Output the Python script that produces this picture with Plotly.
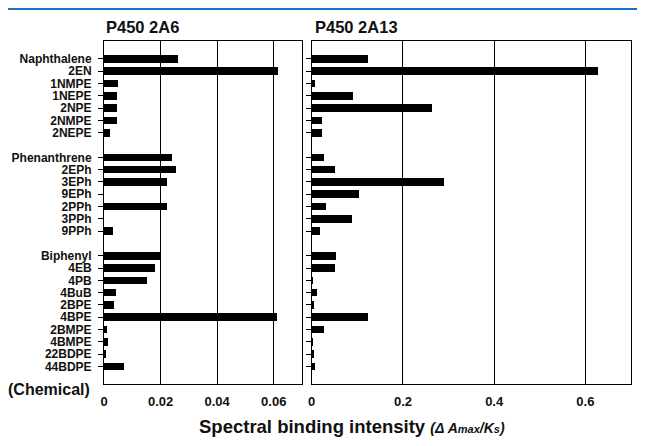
import plotly.graph_objects as go

# ---- data ----
group_naph = ["Naphthalene", "2EN", "1NMPE", "1NEPE", "2NPE", "2NMPE", "2NEPE"]
group_phen = ["Phenanthrene", "2EPh", "3EPh", "9EPh", "2PPh", "3PPh", "9PPh"]
group_biph = ["Biphenyl", "4EB", "4PB", "4BuB", "2BPE", "4BPE", "2BMPE", "4BMPE", "22BDPE", "44BDPE"]

p2a6_naph = [0.0260, 0.0616, 0.0051, 0.0047, 0.0045, 0.0045, 0.0021]
p2a6_phen = [0.0241, 0.0253, 0.0221, 0.0, 0.0221, 0.0, 0.0031]
p2a6_biph = [0.0199, 0.0181, 0.0151, 0.0041, 0.0034, 0.0610, 0.0011, 0.0014, 0.0007, 0.0071]

p2a13_naph = [0.122, 0.626, 0.0066, 0.089, 0.262, 0.021, 0.023]
p2a13_phen = [0.027, 0.050, 0.289, 0.104, 0.031, 0.088, 0.017]
p2a13_biph = [0.052, 0.050, 0.001, 0.012, 0.004, 0.122, 0.026, 0.001, 0.004, 0.006]

left_ticks = [0, 0.02, 0.04, 0.06]
right_ticks = [0, 0.2, 0.4, 0.6]

# ---- build slots (one blank slot between groups) ----
groups = [group_naph, group_phen, group_biph]
cats, pos = [], []
slot = 0
for g in groups:
    for c in g:
        cats.append(c)
        pos.append(slot)
        slot += 1
    slot += 1
v2a6 = p2a6_naph + p2a6_phen + p2a6_biph
v2a13 = p2a13_naph + p2a13_phen + p2a13_biph

FONT = "Liberation Sans"
INK = "#111111"

fig = go.Figure()
fig.add_trace(go.Bar(x=v2a6, y=pos, orientation="h", marker=dict(color="black", line_width=0),
                     width=0.62, xaxis="x", yaxis="y", showlegend=False))
fig.add_trace(go.Bar(x=v2a13, y=pos, orientation="h", marker=dict(color="black", line_width=0),
                     width=0.62, xaxis="x2", yaxis="y2", showlegend=False))

# page has an 8px body margin: work in page pixels, convert to figure pixels
OFF = 8
W, H = 645 - 2 * OFF, 446 - 2 * OFF
PL, PR, PT, PB = 104, 631, 41, 384.3   # plot area in page pixels
L, T = PL - OFF, PT - OFF
R = W - (PR - OFF)
B = H - (PB - OFF)
pw = W - L - R
ph = H - T - B

def px_x(p):
    return (p - OFF - L) / pw

def px_y(p):
    return (H - B - (p - OFF)) / ph

yr = [pos[-1] + 1.43, -1.46]
d1 = [0, px_x(302)]
d2 = [px_x(311.7), 1]

axis_common = dict(showline=True, mirror=True, linecolor="black", linewidth=1,
                   showgrid=True, gridcolor="black", gridwidth=1, zeroline=False,
                   ticks="", tickfont=dict(family=FONT, size=13, color=INK, weight="bold"),
                   ticklabelstandoff=5, fixedrange=True, automargin=False)
fig.update_layout(
    width=W, height=H,
    margin=dict(l=L, r=R, t=T, b=B, autoexpand=False),
    paper_bgcolor="white", plot_bgcolor="white",
    bargap=0,
    xaxis=dict(domain=d1, range=[0, 0.07], tickvals=left_ticks, **axis_common),
    xaxis2=dict(domain=d2, range=[0, 0.7], tickvals=right_ticks, **axis_common),
    yaxis=dict(domain=[0, 1], range=yr, tickvals=pos, ticktext=cats, anchor="x",
               showline=True, mirror=True, linecolor="black", linewidth=1, showgrid=False,
               zeroline=False, ticks="outside", ticklen=5, tickcolor="black", tickwidth=1,
               tickfont=dict(family=FONT, size=12, color=INK, weight="bold"),
               ticklabelstandoff=4, automargin=False),
    yaxis2=dict(domain=[0, 1], range=yr, tickvals=pos, showticklabels=False, anchor="x2",
                showline=True, mirror=True, linecolor="black", linewidth=1, showgrid=False,
                zeroline=False, ticks="outside", ticklen=5, tickcolor="black", tickwidth=1,
                automargin=False),
)

# top blue rule
fig.add_shape(type="line", xref="paper", yref="paper",
              x0=px_x(8), x1=px_x(640), y0=px_y(9), y1=px_y(9),
              line=dict(color="#1a6fcc", width=2))

ann_font = dict(family=FONT, color=INK, weight="bold")
fig.add_annotation(text="P450 2A6", xref="paper", yref="paper", x=d1[0], y=px_y(27),
                   xanchor="left", yanchor="middle", showarrow=False,
                   font=dict(size=16.5, **ann_font))
fig.add_annotation(text="P450 2A13", xref="paper", yref="paper", x=px_x(313), y=px_y(27),
                   xanchor="left", yanchor="middle", showarrow=False,
                   font=dict(size=16.5, **ann_font))
fig.add_annotation(text="(Chemical)", xref="paper", yref="paper", x=px_x(92), y=px_y(390),
                   xanchor="right", yanchor="middle", showarrow=False,
                   font=dict(size=16, **ann_font))
fig.add_annotation(
    text=("Spectral binding intensity "
          "<i><span style='font-size:14px'>(Δ A<span style='font-size:11px'>max</span>"
          "/K<span style='font-size:11px'>s</span>)</span></i>"),
    xref="paper", yref="paper", x=px_x(352), y=px_y(427),
    xanchor="center", yanchor="middle", showarrow=False,
    font=dict(size=18.5, **ann_font))

fig.write_html("out.html")
